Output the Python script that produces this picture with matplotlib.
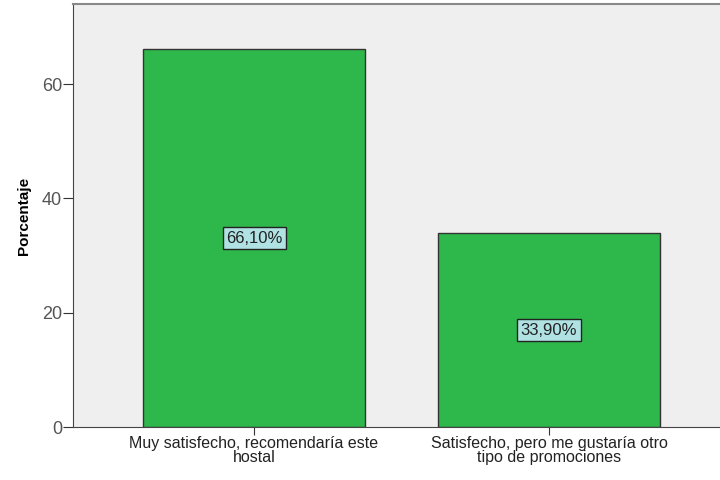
import numpy as np
import matplotlib.pyplot as plt

plt.rcParams['font.family'] = ['Liberation Sans', 'DejaVu Sans']

categorias = ["Muy satisfecho, recomendaría este\nhostal",
              "Satisfecho, pero me gustaría otro\ntipo de promociones"]
porcentajes = [66.10, 33.90]
etiquetas = ["66,10%", "33,90%"]
yticks = [0, 20, 40, 60]

fig = plt.figure(figsize=(7.2, 4.8), dpi=100)
ax = fig.add_axes([73 / 720, 53 / 480, 657 / 720, 423 / 480])
ax.set_facecolor("#efefef")

x = np.arange(len(categorias))
ax.bar(x, porcentajes, width=0.75, color="#2eb84b", edgecolor="#333333", linewidth=1)

# etiquetas de valor en el centro de cada barra
for xi, v, lab in zip(x, porcentajes, etiquetas):
    ax.text(xi, v / 2, lab, ha="center", va="center", fontsize=12, color="#222222",
            bbox=dict(boxstyle="square,pad=0.2", facecolor="#b0e2e4", edgecolor="#222222", linewidth=1))

ax.set_xlim(-0.614, 1.614)
ax.set_ylim(0, 74)
ax.set_xticks(x)
ax.set_xticklabels(categorias, fontsize=11.5, color="#222222", linespacing=0.95)
ax.set_yticks(yticks)
ax.tick_params(axis="y", labelsize=13, labelcolor="#555555", length=7, color="#333333", pad=1)
ax.tick_params(axis="x", length=6, color="#333333", pad=0.5)
ax.set_ylabel("Porcentaje", fontsize=11, fontweight="bold", labelpad=8)

for s in ["left", "bottom"]:
    ax.spines[s].set_color("#444444")
ax.spines["top"].set_color("#888888")
ax.spines["top"].set_linewidth(1.5)
ax.spines["right"].set_visible(False)

fig.savefig("out.png", dpi=100)
